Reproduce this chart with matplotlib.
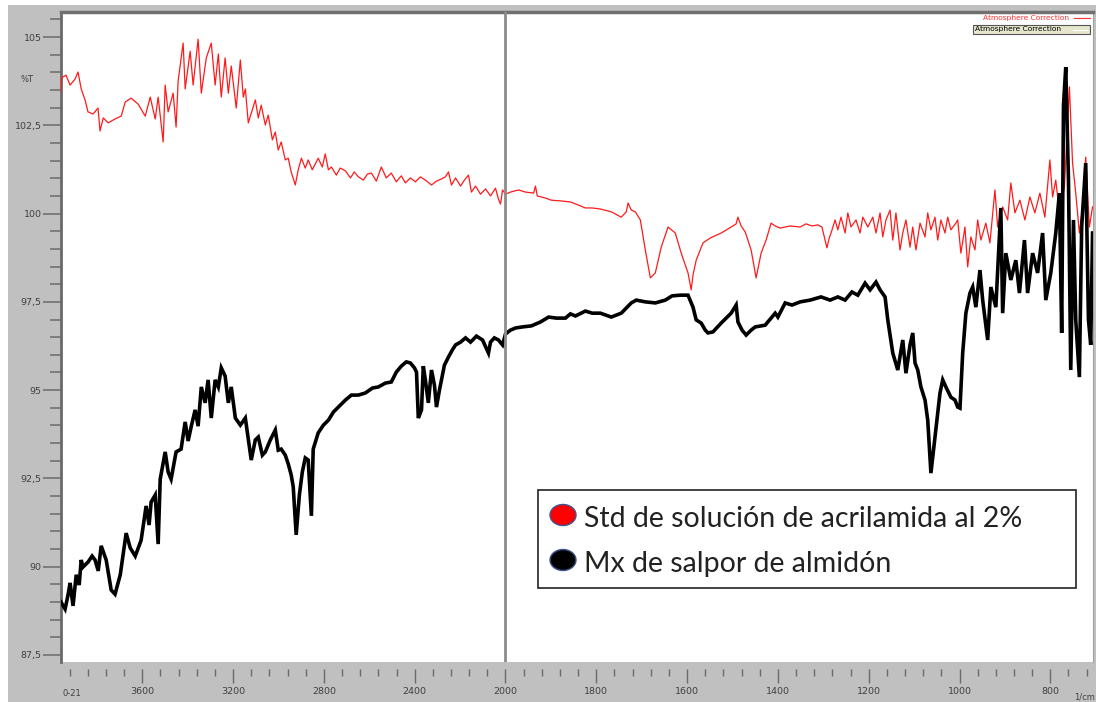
import numpy as np
import matplotlib
matplotlib.use("Agg")
import matplotlib.pyplot as plt
from matplotlib.patches import Rectangle, Ellipse
from matplotlib.ticker import FixedLocator, FuncFormatter

# ---------------- data (wavenumber 1/cm, %T) ----------------
red_wn = [3958, 3955, 3936, 3918, 3896, 3883, 3869, 3852, 3839, 3817, 3795, 3786, 3772, 3750,
          3720, 3693, 3675, 3649, 3618, 3587, 3565, 3543, 3530, 3508, 3499, 3486, 3464, 3451,
          3442, 3420, 3411, 3389, 3376, 3354, 3340, 3318, 3296, 3279, 3265, 3252, 3235, 3221,
          3208, 3186, 3168, 3155, 3146, 3133, 3102, 3089, 3076, 3058, 3045, 3027, 3014, 3001,
          2988, 2970, 2957, 2944, 2926, 2913, 2899, 2882, 2869, 2851, 2825, 2807, 2794, 2780,
          2767, 2745, 2728, 2705, 2683, 2666, 2648, 2626, 2608, 2591, 2569, 2547, 2525, 2503,
          2481, 2459, 2441, 2419, 2397, 2375, 2353, 2326, 2304, 2282, 2265, 2251, 2238, 2220,
          2198, 2181, 2163, 2150, 2132, 2110, 2088, 2066, 2044, 2031, 2022, 2013, 2000,
          1989, 1971, 1956, 1938, 1934, 1930, 1912, 1899, 1879, 1857, 1839, 1824, 1809, 1791,
          1767, 1745, 1734, 1730, 1723, 1714, 1703, 1692, 1681, 1670, 1657, 1642, 1626, 1613,
          1598, 1591, 1587, 1580, 1565, 1549, 1525, 1503, 1492, 1488, 1481, 1472, 1459, 1448,
          1437, 1426, 1415, 1406, 1395, 1373, 1351, 1338, 1325, 1312, 1303, 1296, 1292, 1287,
          1283, 1274, 1268, 1261, 1252, 1246, 1239, 1228, 1219, 1213, 1202, 1191, 1184, 1175,
          1169, 1162, 1153, 1147, 1140, 1131, 1125, 1118, 1109, 1103, 1096, 1087, 1076, 1070,
          1063, 1054, 1048, 1041, 1032, 1026, 1019, 1008, 1004, 997, 988, 982, 975, 966, 960,
          953, 942, 933, 922, 916, 905, 894, 887, 878, 867, 856, 845, 834, 823, 812, 801, 795,
          788, 780, 769, 758, 751, 744, 736, 729, 722, 714, 707]
red_t = [103.45, 103.85, 103.92, 103.64, 103.81, 104.01, 103.53, 103.22, 102.88, 102.82, 102.99,
         102.34, 102.71, 102.57, 102.68, 102.76, 103.16, 103.27, 103.10, 102.76, 103.30, 102.68,
         103.30, 102.03, 103.64, 102.88, 103.41, 102.45, 103.76, 104.83, 103.53, 104.60, 103.64,
         104.94, 103.41, 104.41, 104.83, 103.64, 104.52, 103.30, 104.41, 103.41, 104.18, 102.99,
         104.35, 103.30, 103.53, 102.57, 103.22, 102.71, 103.07, 102.51, 102.79, 102.09, 102.31,
         101.80, 102.03, 101.52, 101.57, 101.18, 100.81, 101.24, 101.57, 101.29, 101.52, 101.24,
         101.57, 101.32, 101.69, 101.24, 101.32, 101.09, 101.29, 101.21, 101.01, 101.18, 101.04,
         100.95, 101.12, 101.15, 100.92, 101.32, 101.01, 101.15, 100.90, 101.07, 100.87, 101.01,
         100.90, 101.04, 100.95, 100.81, 100.92, 100.98, 101.04, 101.18, 100.81, 101.01, 100.78,
         100.95, 101.09, 100.61, 100.78, 100.55, 100.70, 100.50, 100.72, 100.41, 100.27, 100.67,
         100.55,
         100.61, 100.67, 100.61, 100.58, 100.78, 100.50, 100.44, 100.38, 100.36, 100.33, 100.24,
         100.16, 100.16, 100.13, 100.05, 99.90, 100.05, 100.30, 100.10, 100.05, 99.82, 98.97,
         98.18, 98.32, 99.05, 99.62, 99.45, 98.88, 98.32, 97.84, 98.26, 98.68, 99.17, 99.31,
         99.45, 99.62, 99.71, 99.90, 99.65, 99.48, 98.97, 98.18, 98.88, 99.25, 99.73, 99.65,
         99.59, 99.65, 99.62, 99.71, 99.65, 99.68, 99.62, 99.25, 99.03, 99.31, 99.45, 99.82,
         99.54, 99.90, 99.45, 100.02, 99.62, 99.82, 99.45, 99.90, 99.62, 99.90, 99.45, 100.02,
         99.34, 99.82, 100.10, 99.25, 100.02, 98.97, 99.45, 99.82, 99.05, 99.62, 98.97, 99.73,
         99.34, 100.02, 99.54, 99.90, 99.25, 99.82, 99.45, 99.90, 99.54, 99.73, 99.82, 98.88,
         99.62, 98.49, 99.34, 98.97, 99.82, 99.25, 99.73, 99.17, 100.67, 99.62, 100.19, 99.82,
         100.87, 100.02, 100.38, 99.82, 100.47, 100.02, 100.58, 99.90, 101.52, 100.47, 100.95,
         100.02, 100.75, 103.59, 101.43, 100.58, 99.45, 100.19, 101.60, 99.62, 100.19]

black_wn = [3958, 3940, 3927, 3918, 3905, 3891, 3878, 3869, 3861, 3839, 3821, 3808, 3794, 3781,
            3759, 3737, 3720, 3697, 3671, 3653, 3631, 3605, 3583, 3570, 3561, 3543, 3530, 3521,
            3499, 3486, 3473, 3451, 3429, 3411, 3398, 3384, 3367, 3354, 3340, 3323, 3310, 3296,
            3279, 3265, 3252, 3235, 3221, 3208, 3190, 3168, 3146, 3120, 3102, 3089, 3071, 3058,
            3036, 3014, 3001, 2988, 2970, 2957, 2944, 2935, 2922, 2908, 2895, 2882, 2869, 2855,
            2847, 2825, 2802, 2780, 2758, 2736, 2705, 2679, 2648, 2617, 2586, 2560, 2529, 2503,
            2481, 2459, 2437, 2419, 2401, 2392, 2384, 2370, 2362, 2353, 2340, 2326, 2313, 2304,
            2291, 2282, 2269, 2251, 2234, 2220, 2198, 2176, 2154, 2128, 2101, 2075, 2066, 2049,
            2031, 2013, 2000,
            1989, 1978, 1963, 1943, 1923, 1905, 1888, 1868, 1857, 1846, 1824, 1809, 1791, 1767,
            1745, 1732, 1723, 1712, 1692, 1670, 1648, 1633, 1615, 1598, 1587, 1580, 1569, 1560,
            1554, 1543, 1525, 1503, 1492, 1488, 1479, 1470, 1459, 1450, 1428, 1406, 1400, 1384,
            1369, 1351, 1329, 1305, 1285, 1268, 1252, 1237, 1224, 1208, 1197, 1184, 1175, 1164,
            1158, 1147, 1136, 1125, 1118, 1109, 1103, 1098, 1092, 1085, 1076, 1070, 1063, 1054,
            1043, 1037, 1030, 1019, 1010, 1004, 999, 993, 986, 977, 971, 964, 955, 949, 938, 931,
            920, 909, 905, 898, 887, 876, 868, 857, 850, 839, 828, 817, 810, 799, 788, 780, 775,
            771, 766, 760, 755, 749, 744, 736, 731, 722, 716, 711, 707]
black_t = [89.00, 88.80, 89.20, 89.54, 88.89, 89.77, 89.48, 90.19, 89.99, 90.13, 90.30, 90.19,
           89.88, 90.59, 90.19, 89.34, 89.22, 89.77, 90.95, 90.53, 90.30, 90.75, 91.72, 91.18,
           91.83, 92.03, 90.64, 92.48, 93.25, 92.68, 92.48, 93.25, 93.33, 94.10, 93.56, 93.98,
           94.44, 93.98, 95.09, 94.64, 95.29, 94.21, 95.29, 95.09, 95.63, 95.40, 94.64, 95.09,
           94.21, 94.01, 94.21, 93.02, 93.59, 93.67, 93.16, 93.25, 93.59, 93.87, 93.30, 93.33,
           93.16, 92.91, 92.60, 92.26, 90.90, 92.03, 92.68, 93.08, 93.02, 91.44, 93.33, 93.79,
           94.01, 94.15, 94.38, 94.52, 94.72, 94.86, 94.86, 94.92, 95.06, 95.09, 95.20, 95.23,
           95.51, 95.68, 95.80, 95.77, 95.63, 95.51, 94.21, 94.44, 95.68, 95.29, 94.64, 95.57,
           95.14, 94.52, 95.00, 95.29, 95.71, 95.94, 96.14, 96.28, 96.36, 96.48, 96.36, 96.53,
           96.42, 96.05, 96.36, 96.48, 96.42, 96.28, 96.59,
           96.70, 96.76, 96.79, 96.82, 96.93, 97.07, 97.04, 97.04, 97.16, 97.10, 97.24, 97.18,
           97.18, 97.07, 97.18, 97.35, 97.47, 97.55, 97.50, 97.47, 97.55, 97.67, 97.69, 97.69,
           97.35, 96.99, 96.90, 96.70, 96.62, 96.65, 96.90, 97.18, 97.41, 96.93, 96.70, 96.56,
           96.70, 96.79, 96.84, 97.18, 97.07, 97.47, 97.41, 97.50, 97.55, 97.64, 97.55, 97.64,
           97.55, 97.78, 97.69, 98.03, 97.84, 98.06, 97.84, 97.64, 96.99, 96.05, 95.57, 96.42,
           95.48, 96.28, 96.62, 95.77, 95.57, 95.09, 94.72, 94.15, 92.65, 93.67, 94.92, 95.29,
           95.09, 94.80, 94.72, 94.52, 94.49, 96.05, 97.18, 97.75, 97.92, 97.35, 98.40, 97.55,
           96.42, 97.92, 97.35, 100.16, 97.18, 98.88, 98.12, 98.68, 97.75, 99.25, 97.75, 98.88,
           98.32, 99.45, 97.55, 98.32, 99.45, 100.58, 96.62, 103.07, 104.15, 100.95, 95.57,
           99.82, 96.99, 95.37, 99.62, 101.43, 96.99, 96.28, 99.45]

y_major = [87.5, 90, 92.5, 95, 97.5, 100, 102.5, 105]
x_major = [3600, 3200, 2800, 2400, 2000, 1800, 1600, 1400, 1200, 1000, 800]
legend_labels = ["Std de solución de acrilamida al 2%", "Mx de salpor de almidón"]
legend_colors = ["#ff0000", "#000000"]
series_colors = ["#ff1a1a", "#000000"]

# ---------------- figure ----------------
W, H = 1096, 702
fig = plt.figure(figsize=(W / 100, H / 100), dpi=100, facecolor="white")
fig.patches.append(Rectangle((8 / W, 0), 1, (H - 5) / H, transform=fig.transFigure,
                             facecolor="#c0c0c0", edgecolor="none", zorder=-10))

ax = fig.add_axes([61 / W, 1 - 662 / H, (1093 - 61) / W, (662 - 12) / H])
ax.set_facecolor("white")


def fwd(x):
    x = np.asarray(x, dtype=float)
    return np.where(x <= 2000, x, 2000 + (x - 2000) / 2.0)


def inv(t):
    t = np.asarray(t, dtype=float)
    return np.where(t <= 2000, t, 2000 + (t - 2000) * 2.0)


ax.set_xscale("function", functions=(fwd, inv))
ax.set_xlim(3958, 706)
ax.set_ylim(87.30, 105.71)

ax.plot(red_wn, red_t, color=series_colors[0], lw=0.9, zorder=3)
ax.plot(black_wn, black_t, color=series_colors[1], lw=2.6, zorder=4, solid_joinstyle="miter")
ax.axvline(2000, color="#8c8c8c", lw=2.0, zorder=5)

# y axis ticks
ax.yaxis.set_major_locator(FixedLocator(y_major))
ax.yaxis.set_minor_locator(FixedLocator(list(np.arange(87.5, 105.6, 0.5))))
ax.yaxis.set_major_formatter(FuncFormatter(lambda v, p: f"{v:g}".replace(".", ",")))
ax.tick_params(axis="y", which="major", direction="out", length=13, width=1.1,
               color="#6a6a6a", labelsize=6.8, labelcolor="#404040", pad=1)
ax.tick_params(axis="y", which="minor", direction="out", length=8, width=1.1, color="#6a6a6a")

# x axis ticks
minors = list(range(2000, 3958, 80)) + list(range(2000, 705, -40))
ax.xaxis.set_major_locator(FixedLocator(x_major))
ax.xaxis.set_minor_locator(FixedLocator(minors))
ax.xaxis.set_major_formatter(FuncFormatter(lambda v, p: f"{int(round(v))}"))
ax.tick_params(axis="x", which="major", direction="out", length=10, width=1.0,
               color="#6a6a6a", labelsize=6.8, labelcolor="#404040", pad=3)
ax.tick_params(axis="x", which="minor", direction="out", length=5, width=1.0, color="#6a6a6a")

ax.spines["bottom"].set_position(("outward", 5))
ax.spines["bottom"].set_visible(False)
ax.spines["left"].set_color("#6a6a6a")
ax.spines["left"].set_linewidth(2.0)
ax.spines["top"].set_color("#707070")
ax.spines["top"].set_linewidth(2.5)
ax.spines["right"].set_color("#a0a0a0")
ax.spines["right"].set_linewidth(0.8)

# axis annotations
fig.text(27 / W, 1 - 80 / H, "%T", fontsize=6, color="#404040", ha="center", va="center")
fig.text(72 / W, 1 - 694 / H, "0-21", fontsize=6, color="#404040", ha="center", va="center")
fig.text(1085 / W, 1 - 697 / H, "1/cm", fontsize=6, color="#404040", ha="center", va="center")

# small top-right legend
fig.text(1069 / W, 1 - 18 / H, "Atmosphere Correction", fontsize=5.4, color="#ff3030",
         ha="right", va="center")
fig.lines.append(plt.Line2D([1074 / W, 1090 / W], [1 - 18 / H, 1 - 18 / H],
                            transform=fig.transFigure, color="#ff3030", lw=0.8))
fig.patches.append(Rectangle((973 / W, 1 - 34 / H), 117 / W, 9 / H, transform=fig.transFigure,
                             facecolor="#e6e6cc", edgecolor="#555555", lw=0.8, zorder=6))
fig.text(975 / W, 1 - 29.5 / H, "Atmosphere Correction", fontsize=5.4, color="#000000",
         ha="left", va="center", zorder=7)
fig.lines.append(plt.Line2D([1073 / W, 1087 / W], [1 - 29.5 / H, 1 - 29.5 / H],
                            transform=fig.transFigure, color="#ffffff", lw=0.8, zorder=7))

# main legend box
tr = fig.dpi_scale_trans
fig.patches.append(Rectangle((538 / 100, (H - 588) / 100), (1076 - 538) / 100, (588 - 490) / 100,
                             transform=tr, facecolor="white", edgecolor="#222222", lw=1.2,
                             zorder=8))
for i, (lab, col) in enumerate(zip(legend_labels, legend_colors)):
    yc = [515, 560][i]
    fig.patches.append(Ellipse((563 / 100, (H - yc) / 100), 26 / 100, 21 / 100, transform=tr,
                               facecolor=col, edgecolor="#3b5694", lw=1.0, zorder=9))
    fig.text(584 / W, 1 - (yc + 4) / H, lab, fontsize=20.5, family="Lato", color="#222222",
             ha="left", va="center", zorder=9)

fig.savefig("out.png", dpi=100, facecolor=fig.get_facecolor())
